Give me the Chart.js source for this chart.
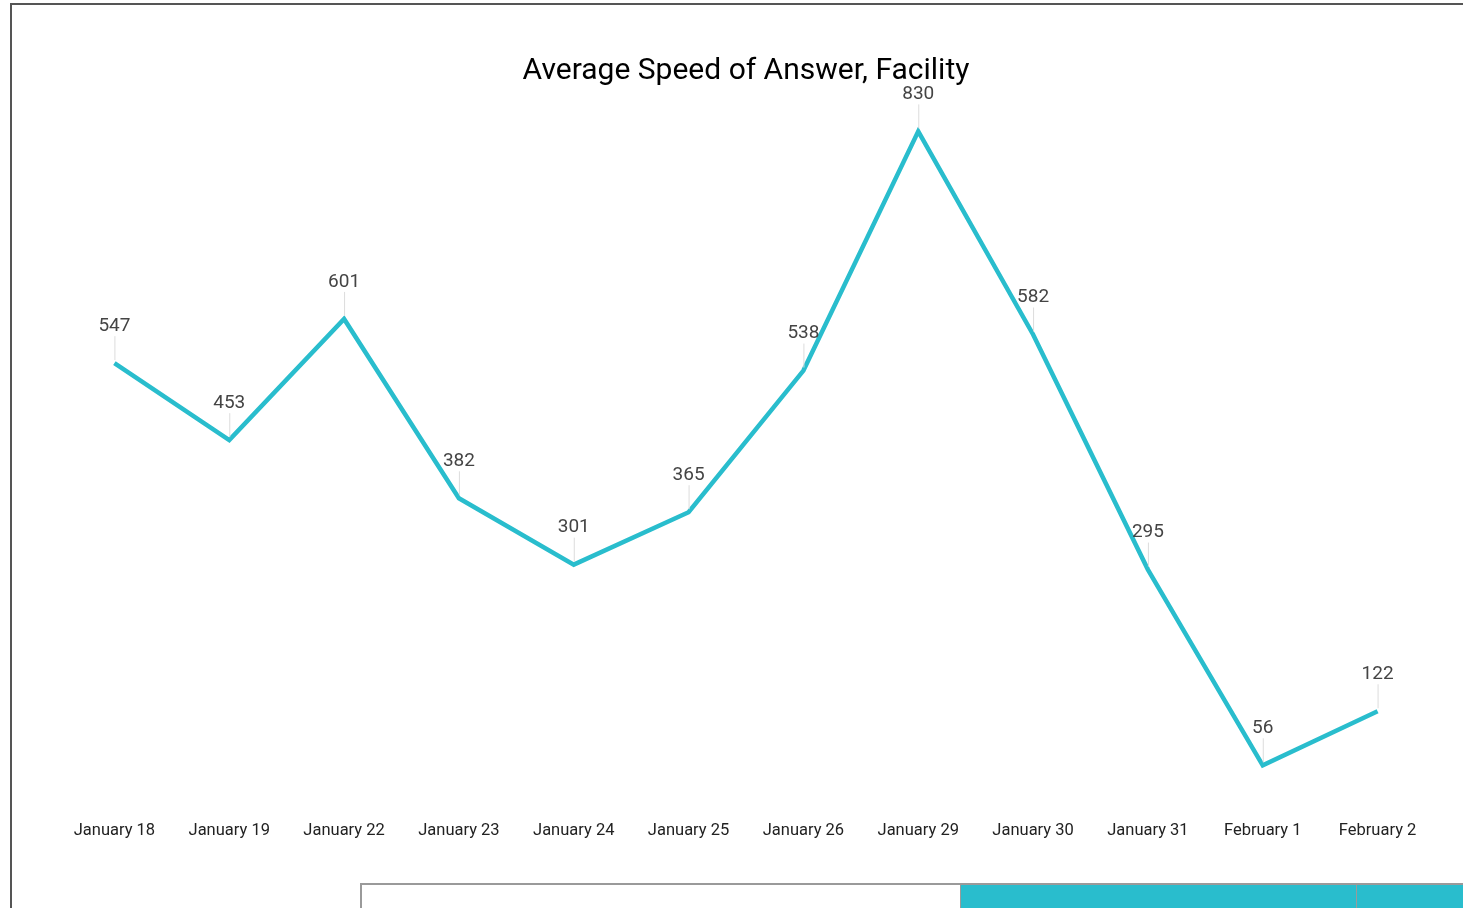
<!DOCTYPE html>
<html>
<head>
<meta charset="utf-8">
<script src="https://cdn.jsdelivr.net/npm/chart.js@4"></script>
<style>
  html, body { margin: 0; padding: 0; background: #fff; overflow: hidden; width: 1463px; height: 908px; }
  #frame { position: absolute; left: 10px; top: 3px; width: 1500px; height: 950px;
           border-left: 2px solid #555; border-top: 2px solid #555; }
  #wrap { position: absolute; left: 12px; top: 5px; width: 1468px; height: 903px; }
  .box { position: absolute; top: 883px; height: 40px; box-sizing: border-box; border-top: 2px solid #9a9a9a; }
  #b1 { left: 360px; width: 601px; background: #fff; border-left: 2px solid #9a9a9a; border-right: 1px solid #9a9a9a; }
  #b2 { left: 961px; width: 396px; background: #29bdcd; border-right: 1px solid #9a9a9a; }
  #b3 { left: 1357px; width: 200px; background: #29bdcd; }
</style>
</head>
<body>
<div id="frame"></div>
<div id="wrap"><canvas id="c" width="1468" height="903" style="width:1468px;height:903px"></canvas></div>
<div class="box" id="b1"></div>
<div class="box" id="b2"></div>
<div class="box" id="b3"></div>
<script>
const categories = ["January 18","January 19","January 22","January 23","January 24","January 25","January 26","January 29","January 30","January 31","February 1","February 2"];
const speedValues = [547, 453, 601, 382, 301, 365, 538, 830, 582, 295, 56, 122];
const chartTitle = "Average Speed of Answer, Facility";

const labelPlugin = {
  id: 'pointLabels',
  afterDatasetsDraw(chart) {
    const ctx = chart.ctx;
    const meta = chart.getDatasetMeta(0);
    ctx.save();
    meta.data.forEach((pt, i) => {
      const x = pt.x, y = pt.y;
      ctx.strokeStyle = '#dcdcdc';
      ctx.lineWidth = 1;
      ctx.beginPath();
      ctx.moveTo(x + 0.5, y - 3);
      ctx.lineTo(x + 0.5, y - 27);
      ctx.stroke();
      ctx.fillStyle = '#444';
      ctx.font = '19px Roboto';
      ctx.textAlign = 'center';
      ctx.textBaseline = 'middle';
      ctx.fillText(String(speedValues[i]), x, y - 37);
    });
    ctx.restore();
  }
};

new Chart(document.getElementById('c'), {
  type: 'line',
  data: {
    labels: categories,
    datasets: [{
      data: speedValues,
      borderColor: '#29bdcd',
      backgroundColor: '#29bdcd',
      borderWidth: 4.5,
      pointRadius: 0,
      tension: 0,
      fill: false,
      borderJoinStyle: 'miter'
    }]
  },
  options: {
    responsive: false,
    animation: false,
    layout: { padding: { left: 45, right: 45, top: 0, bottom: 57 } },
    plugins: {
      legend: { display: false },
      tooltip: { enabled: false },
      title: {
        display: true,
        text: chartTitle,
        color: '#000',
        font: { family: 'Roboto', size: 30, weight: 'normal', lineHeight: 1.2 },
        padding: { top: 48, bottom: 26 }
      }
    },
    scales: {
      x: {
        offset: true,
        grid: { display: false, drawTicks: false },
        border: { display: false },
        ticks: { color: '#222', font: { family: 'Roboto', size: 16.5 }, padding: 10, maxRotation: 0, autoSkip: false }
      },
      y: {
        display: false,
        min: 0,
        max: 850
      }
    }
  },
  plugins: [labelPlugin]
});
</script>
</body>
</html>
